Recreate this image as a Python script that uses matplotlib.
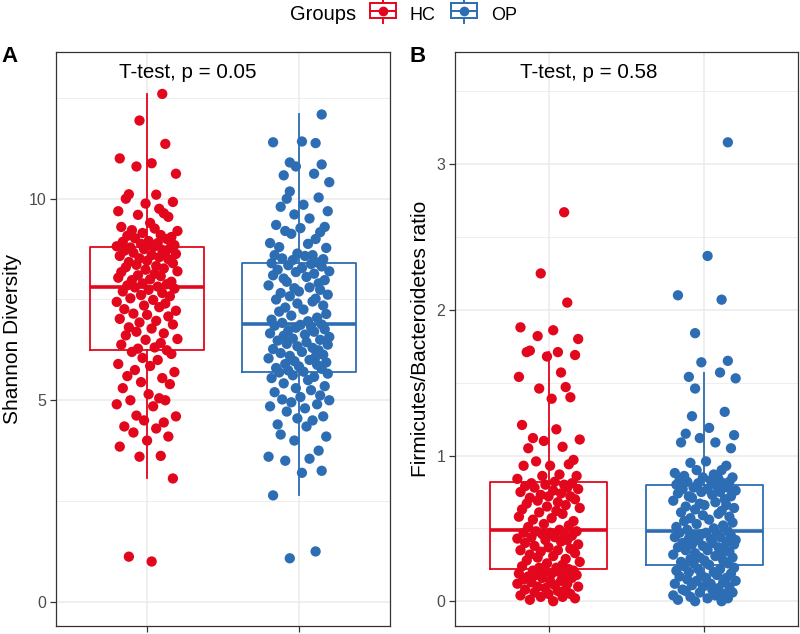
import numpy as np
import matplotlib
matplotlib.use("Agg")
from matplotlib import pyplot as plt
from matplotlib.patches import Rectangle
from matplotlib.lines import Line2D

plt.rcParams['font.family'] = ['Liberation Sans', 'DejaVu Sans']

### Data

groups = ["HC", "OP"]
colors = ["#E2071C", "#2D6DB3"]

# Shannon diversity, HC
shannon_hc = [1.0, 1.12, 3.06, 3.6, 3.62, 3.85, 4.0, 4.1, 4.2, 4.3, 4.35, 4.45, 4.5, 4.6,
              4.62, 4.85, 4.9, 5.0, 5.0, 5.05, 5.15, 5.3, 5.4, 5.45, 5.55, 5.6, 5.7, 5.75,
              5.85, 5.9, 6.0, 6.05, 6.15, 6.2, 6.24,
              6.28, 6.31, 6.38, 6.42, 6.5, 6.52, 6.61, 6.66, 6.7, 6.78, 6.81, 6.88, 6.93,
              6.97, 7.02, 7.08, 7.12, 7.15, 7.22, 7.26, 7.31, 7.35, 7.4, 7.44, 7.49, 7.53,
              7.58, 7.61, 7.66, 7.7, 7.74, 7.77, 7.8, 7.82,
              7.85, 7.88, 7.9, 7.94, 7.98, 8.0, 8.04, 8.08, 8.1, 8.14, 8.18, 8.2, 8.24,
              8.27, 8.3, 8.33, 8.36, 8.4, 8.43, 8.46, 8.5, 8.52, 8.55, 8.58, 8.6, 8.63,
              8.66, 8.68, 8.71, 8.73, 8.75, 8.77, 8.79, 8.80,
              8.82, 8.85, 8.88, 8.9, 8.93, 8.95, 9.0, 9.02, 9.05, 9.08, 9.1, 9.15, 9.2,
              9.22, 9.26, 9.3, 9.4, 9.55, 9.6, 9.64, 9.69, 9.75, 9.88, 9.92, 10.0, 10.1,
              10.11, 10.62, 10.8, 10.88, 11.0, 11.36, 11.94, 12.6]

# Shannon diversity, OP
shannon_op = [1.08, 1.25, 2.64, 3.2, 3.25, 3.5, 3.55, 3.6, 3.75, 4.0, 4.1, 4.15, 4.35, 4.4,
              4.5, 4.55, 4.6, 4.72, 4.8, 4.85, 4.9, 4.95, 5.0, 5.02, 5.08, 5.12, 5.2, 5.25,
              5.3, 5.35, 5.42, 5.5, 5.55, 5.58, 5.62, 5.66, 5.69, 5.71,
              5.74, 5.78, 5.8, 5.84, 5.88, 5.9, 5.94, 5.97, 6.0, 6.04, 6.08, 6.1, 6.13,
              6.17, 6.2, 6.24, 6.27, 6.3, 6.34, 6.38, 6.4, 6.44, 6.48, 6.5, 6.53, 6.57,
              6.6, 6.63, 6.66, 6.7, 6.73, 6.76, 6.8, 6.82, 6.85, 6.87, 6.88,
              6.92, 6.96, 7.0, 7.05, 7.1, 7.14, 7.2, 7.25, 7.3, 7.35, 7.4, 7.45, 7.5,
              7.52, 7.58, 7.62, 7.66, 7.7, 7.74, 7.78, 7.8, 7.85, 7.9, 7.94, 7.98, 8.02,
              8.06, 8.1, 8.14, 8.18, 8.2, 8.24, 8.28, 8.32, 8.35, 8.38, 8.40,
              8.42, 8.48, 8.5, 8.52, 8.58, 8.6, 8.6, 8.64, 8.78, 8.8, 8.88, 8.9, 9.0,
              9.13, 9.17, 9.2, 9.27, 9.3, 9.35, 9.51, 9.61, 9.69, 9.8, 9.85, 10.0, 10.03,
              10.18, 10.41, 10.58, 10.62, 10.8, 10.85, 10.9, 11.38, 11.4, 11.42, 12.09]

# Firmicutes/Bacteroidetes ratio, HC
fb_hc = [0.0, 0.01, 0.02, 0.03, 0.03, 0.04, 0.05, 0.05, 0.06, 0.07, 0.08, 0.08, 0.09, 0.1,
         0.1, 0.11, 0.12, 0.12, 0.13, 0.14, 0.14, 0.15, 0.16, 0.16, 0.17, 0.17, 0.18, 0.18,
         0.19, 0.19, 0.2, 0.2, 0.21, 0.21, 0.22,
         0.23, 0.23, 0.24, 0.25, 0.26, 0.27, 0.28, 0.29, 0.3, 0.31, 0.32, 0.33, 0.34,
         0.35, 0.35, 0.36, 0.37, 0.38, 0.39, 0.4, 0.41, 0.42, 0.42, 0.43, 0.44, 0.44,
         0.45, 0.46, 0.46, 0.47, 0.47, 0.48, 0.48, 0.49,
         0.51, 0.52, 0.53, 0.55, 0.56, 0.57, 0.58, 0.6, 0.61, 0.62, 0.63, 0.64, 0.65,
         0.66, 0.67, 0.68, 0.69, 0.7, 0.71, 0.72, 0.72, 0.73, 0.74, 0.75, 0.76, 0.77,
         0.78, 0.78, 0.79, 0.8, 0.8, 0.81, 0.81, 0.82,
         0.84, 0.86, 0.86, 0.87, 0.93, 0.93, 0.94, 0.96, 0.97, 1.05, 1.06, 1.10, 1.11,
         1.12, 1.18, 1.21, 1.39, 1.40, 1.46, 1.47, 1.54, 1.57, 1.68, 1.69, 1.71, 1.71,
         1.72, 1.80, 1.82, 1.86, 1.88, 2.05, 2.25, 2.67]

# Firmicutes/Bacteroidetes ratio, OP
fb_op = [0.0, 0.0, 0.01, 0.02, 0.02, 0.03, 0.04, 0.04, 0.05, 0.06, 0.06, 0.07, 0.08, 0.08,
         0.09, 0.1, 0.1, 0.11, 0.12, 0.12, 0.13, 0.14, 0.14, 0.15, 0.16, 0.16, 0.17, 0.18,
         0.18, 0.19, 0.2, 0.2, 0.21, 0.22, 0.22, 0.23, 0.24, 0.25,
         0.26, 0.26, 0.27, 0.28, 0.28, 0.29, 0.3, 0.3, 0.31, 0.32, 0.33, 0.33, 0.34,
         0.35, 0.35, 0.36, 0.37, 0.37, 0.38, 0.39, 0.39, 0.4, 0.4, 0.41, 0.42, 0.42,
         0.43, 0.43, 0.44, 0.44, 0.45, 0.45, 0.46, 0.46, 0.47, 0.47, 0.48,
         0.49, 0.5, 0.51, 0.52, 0.53, 0.54, 0.55, 0.56, 0.57, 0.58, 0.59, 0.6, 0.61,
         0.62, 0.63, 0.64, 0.65, 0.66, 0.66, 0.67, 0.68, 0.69, 0.7, 0.71, 0.72, 0.72,
         0.73, 0.74, 0.75, 0.75, 0.76, 0.77, 0.77, 0.78, 0.78, 0.79, 0.80,
         0.81, 0.81, 0.82, 0.82, 0.83, 0.83, 0.84, 0.85, 0.85, 0.86, 0.87, 0.88, 0.90,
         0.90, 0.93, 0.95, 0.96, 1.05, 1.09, 1.09, 1.12, 1.14, 1.15, 1.19, 1.27, 1.30,
         1.46, 1.53, 1.54, 1.57, 1.64, 1.65, 1.84, 2.07, 2.1, 2.37, 3.15]

# horizontal jitter of the points (hundredths of a category width)
jitter_hc = [3, -12, 17, -5, 9, -18, 0, 14, -9, 6, -15, 11, -2, 19, -7, 4, -20, 12, -11, 8,
             1, -16, 15, -4, 10, -13, 18, -8, 2, -19, 7, -3, 16, -10, 13, -6, 5, -17, 9, -1,
             20, -14, 11, -7, 3, -12, 17, -5, 6, -18, 14, 0, -9, 19, -15, 8, -2, 12, -20, 4,
             -11, 15, -4, 10, -16, 1, 18, -8, 7, -13, 13, -3, 16, -10, 2, -19, 9, -6, 5, -17,
             20, -1, 11, -14, 6, -7, 17, -12, 0, 14, -5, 8, -18, 3, 19, -9, 12, -15, 10, -2,
             15, -11, 4, -20, 18, -4, 7, -16, 1, 13, -8, 16, -13, 9, -3, 20, -10, 5, -17, 2,
             14, -6, 11, -19, 8, -1, 17, -14, 6, -12, 19, -7, 3, -18, 12, -5, 10]
jitter_op = [-6, 11, -17, 2, 15, -9, 7, -20, 13, -3, 18, -12, 5, -14, 9, -1, 16, -8, 4, -19,
             12, -5, 20, -11, 1, 14, -16, 8, -2, 17, -10, 6, -18, 10, -4, 19, -13, 3, -7, 15,
             -15, 0, 12, -9, 18, -3, 7, -20, 11, -6, 16, -12, 2, 13, -17, 9, -1, 19, -8, 5,
             -14, 14, -4, 20, -10, 4, -19, 10, -7, 17, -2, 8, -16, 1, 15, -11, 6, -18, 12, -5,
             18, -13, 3, -9, 16, -1, 9, -15, 11, -6, 19, -12, 0, 14, -3, 7, -20, 13, -8, 17,
             -10, 5, -17, 10, -2, 20, -14, 2, 15, -7, 8, -18, 12, -4, 16, -11, 4, -16, 9, -1,
             18, -13, 6, -19, 11, -5, 14, -9, 1, 17, -15, 7, -3, 19, -12, 3, -8, 13, -6, 20,
             -10, 10, -2, 15]

panels = [
    dict(tag="A", data=[shannon_hc, shannon_op], ylabel="Shannon Diversity",
         label="T-test, p = 0.05", ylim=(-0.6, 13.64), major=[0, 5, 10],
         minor=[2.5, 7.5, 12.5], rect=[56, 8, 334, 574], ylab_x=-0.102, tag_x=9.5),
    dict(tag="B", data=[fb_hc, fb_op], ylabel="Firmicutes/Bacteroidetes ratio",
         label="T-test, p = 0.58", ylim=(-0.17, 3.77), major=[0, 1, 2, 3],
         minor=[0.5, 1.5, 2.5, 3.5], rect=[455, 8, 343, 574], ylab_x=-0.073, tag_x=418),
]
jitters = [jitter_hc, jitter_op]

W, H = 800, 634
fig = plt.figure(figsize=(W / 100, H / 100), dpi=100)

for p in panels:
    l, b, w, h = p["rect"]
    ax = fig.add_axes([l / W, b / H, w / W, h / H])
    for i, (vals, col) in enumerate(zip(p["data"], colors)):
        vals = np.sort(np.array(vals))
        jit = np.resize(np.array(jitters[i]) / 100.0, len(vals))
        ax.scatter(i + 1 + jit, vals, s=55, color=col, edgecolors="none", zorder=2)
        bp = ax.boxplot(vals, positions=[i + 1], widths=0.75, whis=1.5,
                        showfliers=False, showcaps=False, manage_ticks=False)
        for part in ["boxes", "whiskers", "medians"]:
            for ln in bp[part]:
                ln.set_color(col)
                ln.set_linewidth(1.3)
                ln.set_zorder(3)
        for ln in bp["medians"]:
            ln.set_linewidth(2.6)

    ax.set_xlim(0.4, 2.6)
    ax.set_ylim(*p["ylim"])
    ax.set_xticks([1, 2])
    ax.set_xticklabels(["", ""])
    ax.set_yticks(p["major"])
    ax.set_yticks(p["minor"], minor=True)
    ax.tick_params(axis="both", which="major", length=4, width=0.9, color="#333333",
                   labelsize=11.5, labelcolor="#4D4D4D", pad=3)
    ax.tick_params(axis="y", which="minor", length=0)
    ax.set_axisbelow(True)
    ax.grid(which="major", color="#EBEBEB", linewidth=1.1)
    ax.grid(which="minor", axis="y", color="#EBEBEB", linewidth=0.6)
    for s in ax.spines.values():
        s.set_color("#333333")
        s.set_linewidth(0.9)

    ax.set_ylabel(p["ylabel"], fontsize=15)
    ax.yaxis.set_label_coords(p["ylab_x"], 0.5)
    ax.text(0.189, 0.955, p["label"], transform=ax.transAxes, fontsize=14.8,
            ha="left", va="baseline")
    fig.text(p["tag_x"] / W, 1 - 57 / H, p["tag"], fontsize=16, fontweight="bold",
             ha="center", va="center")


# legend keys drawn like ggplot boxplot keys
class BoxKey:
    def __init__(self, color):
        self.color = color

    def legend_artist(self, legend, orig_handle, fontsize, handlebox):
        x0, y0 = handlebox.xdescent, handlebox.ydescent
        w, h = handlebox.width, handlebox.height
        tr = handlebox.get_transform()
        c = self.color
        arts = [
            Line2D([x0 + w / 2] * 2, [y0 - 0.3 * h, y0 + 1.3 * h], color=c, lw=1.4, transform=tr),
            Rectangle((x0, y0), w, h, facecolor="white", edgecolor=c, lw=1.4,
                      transform=tr),
            Line2D([x0, x0 + w], [y0 + h / 2] * 2, color=c, lw=1.4, transform=tr),
            Line2D([x0 + w / 2], [y0 + h / 2], marker="o", markersize=7, color=c,
                   markeredgewidth=0, transform=tr),
        ]
        for a in arts:
            handlebox.add_artist(a)
        return arts[1]


handles = [Line2D([], [], color=c) for c in colors]
fig.text(290 / W, 1 - 15 / H, "Groups", fontsize=14.5, ha="left", va="center")
fig.legend(handles, groups, loc="center left", bbox_to_anchor=(370 / W, 1 - 15 / H),
           ncol=2, frameon=False, fontsize=13, handlelength=1.45, handleheight=0.95,
           handletextpad=0.75, columnspacing=0.85, borderpad=0, borderaxespad=0,
           handler_map={handles[0]: BoxKey(colors[0]), handles[1]: BoxKey(colors[1])})

fig.savefig("out.png", dpi=100)
